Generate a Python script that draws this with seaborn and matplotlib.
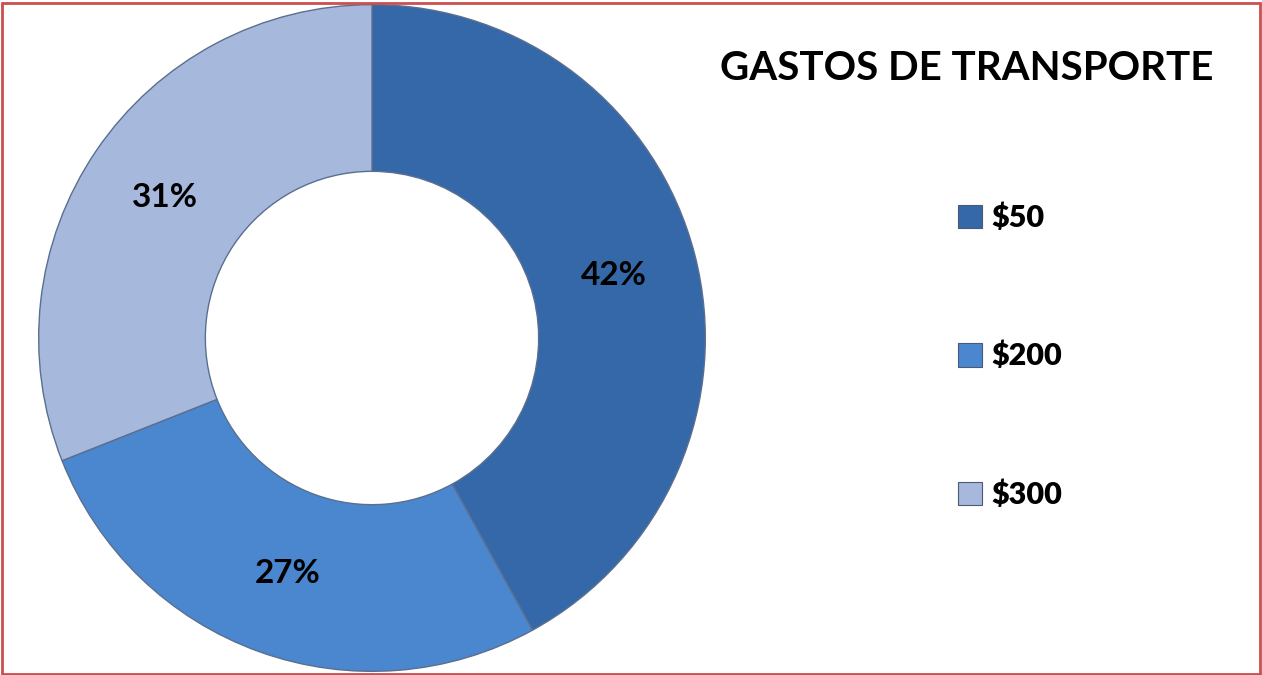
import matplotlib
matplotlib.use("Agg")
import matplotlib.pyplot as plt
from matplotlib.patches import Patch, Rectangle
from matplotlib.font_manager import FontProperties
import seaborn as sns

# data
categories = ["$50", "$200", "$300"]
shares = [42, 27, 31]
colors = ["#3568A8", "#4A87CF", "#A6B8DC"]
title = "GASTOS DE TRANSPORTE"

sns.set_theme(style="white")
plt.rcParams['font.family'] = ['Lato', 'DejaVu Sans']
plt.rcParams['text.color'] = 'black'

fig = plt.figure(figsize=(12.62, 6.75), dpi=100)
W, H = 1262, 675
cx, cy, r = 372, 338, 335
ax = fig.add_axes([(cx - r) / W, (H - cy - r) / H, 2 * r / W, 2 * r / H])

wedges, texts, autotexts = ax.pie(
    shares, colors=colors, startangle=90, counterclock=False,
    autopct='%1.0f%%', pctdistance=0.75, radius=1,
    wedgeprops=dict(width=0.5, edgecolor="#5A6F8F", linewidth=1.0),
    textprops=dict(fontsize=24, fontweight='bold', color='black'))
ax.set_xlim(-1.005, 1.005)
ax.set_ylim(-1.005, 1.005)
ax.set_axis_off()

fig.text(0.766, 0.899, title, ha='center', va='center',
         fontsize=29, fontweight='bold', color='black')

leg_font = FontProperties(family=['Lato', 'DejaVu Sans'], weight='heavy', size=22)
handles = [Patch(facecolor=c, edgecolor="#4A5A75", linewidth=0.8) for c in colors]
leg = fig.legend(handles, categories, loc='upper left',
                 bbox_to_anchor=(930 / W, 1 - 176 / H), frameon=False,
                 prop=leg_font, handlelength=0.8,
                 handleheight=0.8, handletextpad=0.3, labelspacing=3.6)
for t in leg.get_texts():
    t.set_color('black')

# red outer frame
fig.patches.append(Rectangle((1.5 / W, 1.5 / H), (W - 4) / W, (H - 4.5) / H,
                             transform=fig.transFigure, fill=False,
                             edgecolor="#CC4F4F", linewidth=2))

fig.savefig("out.png", dpi=100)
